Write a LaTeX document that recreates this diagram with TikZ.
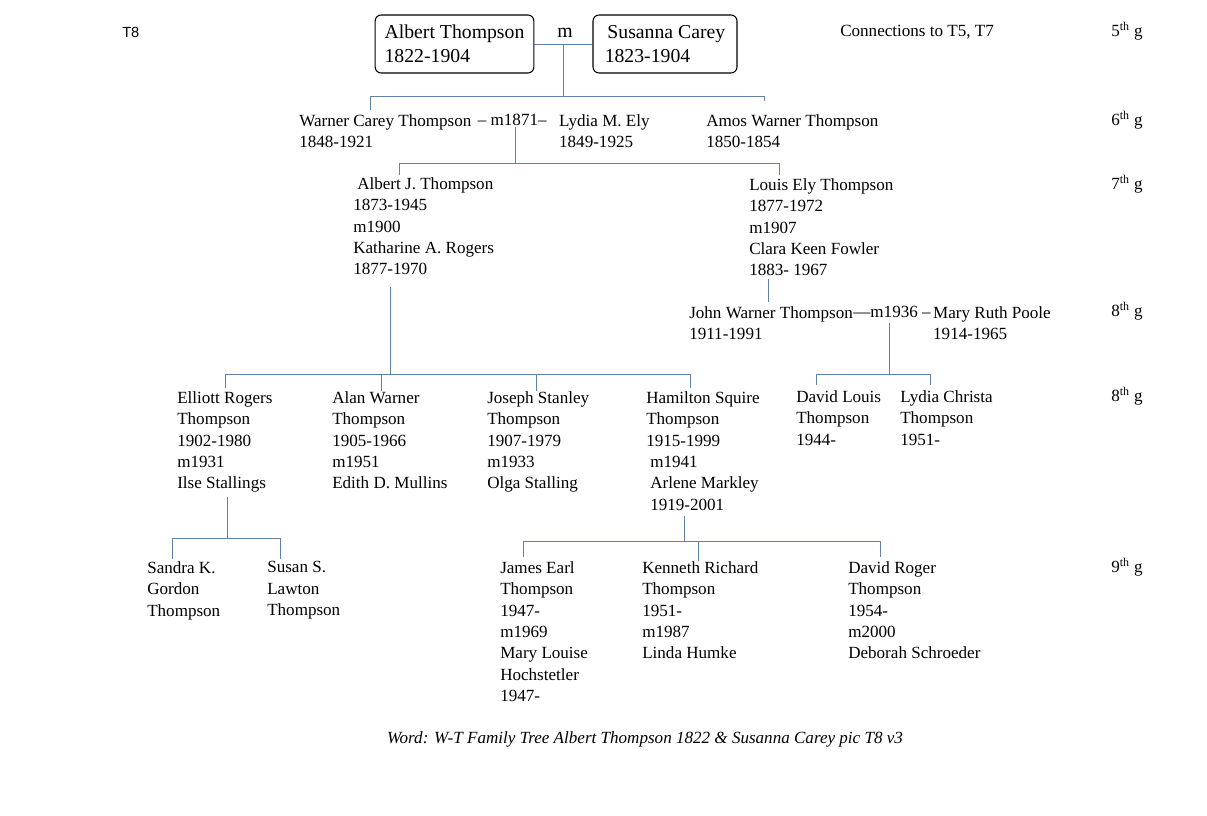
\documentclass[tikz,border=0pt]{standalone}
\usepackage{fontspec}
\setmainfont{Liberation Serif}
\newfontfamily\tagfont{Liberation Sans}
\usetikzlibrary{positioning}
\definecolor{tieblue}{RGB}{96,130,168}

\begin{document}
\begin{tikzpicture}[x=0.75pt, y=-0.75pt]
\tikzstyle{person}=[inner sep=0pt, anchor=north west, align=left, font=\fontsize{12.8}{16.1}\selectfont]
\tikzstyle{founder}=[draw, line width=.8pt, rounded corners=.45em, inner sep=0pt, minimum height=43.5pt, align=left, font=\fontsize{14.8}{18}\selectfont]
\tikzstyle{gen}=[inner sep=0pt, anchor=base west, font=\fontsize{12.8}{16.1}\selectfont]
\tikzstyle{tie}=[draw=tieblue, line width=.6pt]
\useasboundingbox (0,0) rectangle (1207,816);

\node [inner sep=0pt, anchor=west, font=\tagfont\fontsize{11}{13}\selectfont] (tag) at (122,32) {T8};
\node [gen] (conn) at (840,36.5) {Connections to T5, T7};

\node [founder, minimum width=119pt] (albert) at (454.5,44) {Albert Thompson\\1822-1904};
\node [founder, minimum width=108pt] (susanna) at (665,44) {\hspace{2pt}Susanna Carey\\1823-1904};
\node [inner sep=0pt, anchor=base, font=\fontsize{14.8}{18}\selectfont] (wedm) at (565,37.5) {m};

\node [person] (warner) at (299,114) {Warner Carey Thompson\\1848-1921};
\node [person] (marr1) at ([xshift=4.5pt]warner.north east) {\textendash{} m1871\textendash};
\node [person] (lydia) at ([xshift=9pt]marr1.north east) {Lydia M. Ely\\1849-1925};
\node [person] (amos) at (706,114) {Amos Warner Thompson\\1850-1854};

\node [person] (albertj) at (353,177) {\hspace{3pt}Albert J. Thompson\\1873-1945\\m1900\\Katharine A. Rogers\\1877-1970};
\node [person] (louis) at (749,178) {Louis Ely Thompson\\1877-1972\\m1907\\Clara Keen Fowler\\1883- 1967};

\node [person] (john) at (689,306) {John Warner Thompson\\1911-1991};
\node [person] (marr2) at (john.north east) {\textemdash m1936 \textendash};
\node [person] (mary) at ([xshift=1.5pt]marr2.north east) {Mary Ruth Poole\\1914-1965};

\node [person] (elliott) at (177,391) {Elliott Rogers\\Thompson\\1902-1980\\m1931\\Ilse Stallings};
\node [person] (alan) at (332,391) {Alan Warner\\Thompson\\1905-1966\\m1951\\Edith D. Mullins};
\node [person] (joseph) at (487,391) {Joseph Stanley\\Thompson\\1907-1979\\m1933\\Olga Stalling};
\node [person] (hamilton) at (646,391) {Hamilton Squire\\Thompson\\1915-1999\\\hspace{3pt}m1941\\\hspace{3pt}Arlene Markley\\\hspace{3pt}1919-2001};
\node [person] (davidl) at (796,390) {David Louis\\Thompson\\1944-};
\node [person] (lydiac) at (900,390) {Lydia Christa\\Thompson\\1951-};

\node [person] (sandra) at (147,561) {Sandra K.\\Gordon\\Thompson};
\node [person] (susan) at (267,561) {Susan S.\\Lawton\\Thompson};
\node [person] (james) at (500,561) {James Earl\\Thompson\\1947-\\m1969\\Mary Louise\\Hochstetler\\1947-};
\node [person] (kenneth) at (642,561) {Kenneth Richard\\Thompson\\1951-\\m1987\\Linda Humke};
\node [person] (davidr) at (848,561) {David Roger\\Thompson\\1954-\\m2000\\Deborah Schroeder};

\node [gen] (g5) at (1111,36.5) {5\textsuperscript{th} g};
\node [gen] (g6) at (1111,125.5) {6\textsuperscript{th} g};
\node [gen] (g7) at (1111,189.5) {7\textsuperscript{th} g};
\node [gen] (g8a) at (1111,316.5) {8\textsuperscript{th} g};
\node [gen] (g8b) at (1111,401.5) {8\textsuperscript{th} g};
\node [gen] (g9) at (1111,572.5) {9\textsuperscript{th} g};

\node [inner sep=0pt, font=\fontsize{12.8}{16}\selectfont\itshape] (caption) at (645,739) {Word: W-T Family Tree Albert Thompson 1822 \& Susanna Carey pic T8 v3};

\coordinate (wed1) at (563,44);
\coordinate (bar1l) at (370,96);
\coordinate (bar1r) at (764,96);
\draw [tie] (albert.east) -- (susanna.west);
\draw [tie] (wed1) -- (wed1 |- bar1l);
\draw [tie] (bar1l) -- (bar1r);
\draw [tie, shorten >=3pt] (bar1l) -- (bar1l |- warner.north);
\draw [tie, shorten >=10pt] (bar1r) -- (bar1r |- amos.north);

\coordinate (bar2l) at (399,163);
\coordinate (bar2r) at (779,163);
\draw [tie, shorten <=1pt] ([xshift=2pt]marr1.south) -- ([xshift=2pt]marr1.south |- bar2l);
\draw [tie] (bar2l) -- (bar2r);
\draw [tie, shorten >=1.5pt] (bar2l) -- (bar2l |- albertj.north);
\draw [tie, shorten >=2.5pt] (bar2r) -- (bar2r |- louis.north);

\coordinate (louisdrop) at (768,0);
\draw [tie, shorten <=2pt, shorten >=3pt] (louisdrop |- louis.south) -- (louisdrop |- john.north);

\coordinate (bar3l) at (816,374);
\coordinate (bar3r) at (930,374);
\draw [tie, shorten <=4pt] ([xshift=-2pt]marr2.south) -- ([xshift=-2pt]marr2.south |- bar3l);
\draw [tie] (bar3l) -- (bar3r);
\draw [tie, shorten >=3.5pt] (bar3l) -- (bar3l |- davidl.north);
\draw [tie, shorten >=3.5pt] (bar3r) -- (bar3r |- lydiac.north);

\coordinate (ajdrop) at (390,0);
\coordinate (telliott) at (225,374);
\coordinate (talan) at (381,374);
\coordinate (tjoseph) at (536,374);
\coordinate (thamilton) at (690,374);
\draw [tie, shorten <=8.5pt] (ajdrop |- albertj.south) -- (ajdrop |- telliott);
\draw [tie] (telliott) -- (thamilton);
\draw [tie, shorten >=2pt] (telliott) -- (telliott |- elliott.north);
\draw [tie] (talan) -- (talan |- alan.north);
\draw [tie] (tjoseph) -- (tjoseph |- joseph.north);
\draw [tie, shorten >=2pt] (thamilton) -- (thamilton |- hamilton.north);

\coordinate (eldrop) at (227,0);
\coordinate (tsandra) at (172,538);
\coordinate (tsusan) at (280,538);
\draw [tie, shorten <=3pt] (eldrop |- elliott.south) -- (eldrop |- tsandra);
\draw [tie] (tsandra) -- (tsusan);
\draw [tie, shorten >=1.5pt] (tsandra) -- (tsandra |- sandra.north);
\draw [tie, shorten >=1.5pt] (tsusan) -- (tsusan |- susan.north);

\coordinate (hadrop) at (684,0);
\coordinate (tjames) at (523,541);
\coordinate (tkenneth) at (698,541);
\coordinate (tdavidr) at (880,541);
\draw [tie, shorten <=4pt] (hadrop |- hamilton.south) -- (hadrop |- tjames);
\draw [tie] (tjames) -- (tdavidr);
\draw [tie, shorten >=3pt] (tjames) -- (tjames |- james.north);
\draw [tie] (tkenneth) -- (tkenneth |- kenneth.north);
\draw [tie, shorten >=3pt] (tdavidr) -- (tdavidr |- davidr.north);
\end{tikzpicture}
\end{document}
